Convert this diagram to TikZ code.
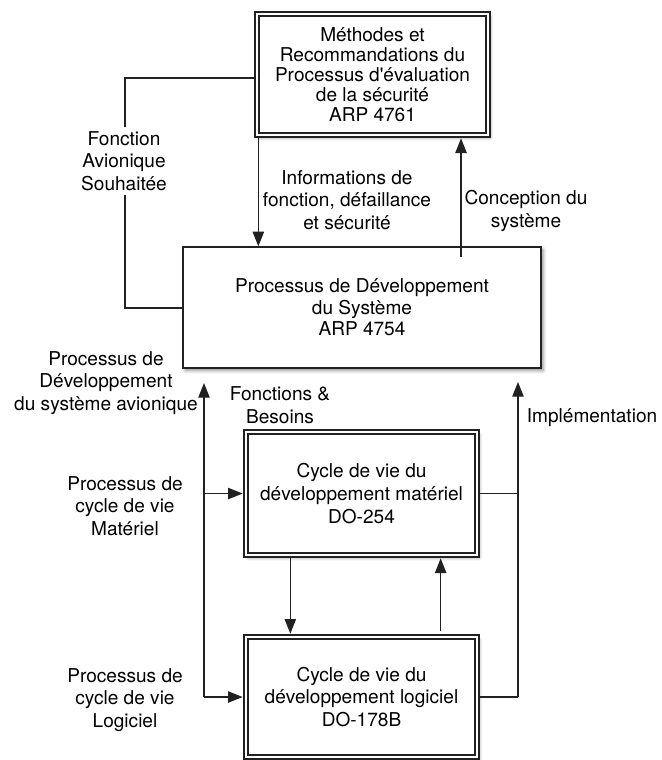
\documentclass[tikz,border=0pt]{standalone}
\usepackage{fontspec}
\setmainfont{TeX Gyre Heros}
\usepackage{tikz}
\usetikzlibrary{arrows.meta, calc, positioning, shadows, shadows.blur}
\definecolor{boxline}{rgb}{0.13, 0.13, 0.13}

\begin{document}
\begin{tikzpicture}[x=.75pt, y=-.75pt, line width=1pt, draw=boxline,
        font=\fontsize{14.3}{17}\selectfont,
        lbl/.style={align=center, inner sep=3pt},
        box/.style={draw=boxline, fill=white, align=center,
            blur shadow={shadow xshift=1.6pt, shadow yshift=-2pt, shadow blur radius=2.5pt, shadow opacity=45}},
        dbox/.style={box, double, double distance=2pt},
        arr/.style={-{Triangle[length=11pt, width=8.5pt]}},
        darr/.style={arr, shorten >=2pt}]
    \useasboundingbox (0,0) rectangle (661,760);

    \node[dbox, minimum width=173.25pt, minimum height=90.75pt, font=\fontsize{14.3}{15}\selectfont]
        (meth) at (372.5,74.5) {Méthodes et\\Recommandations du\\Processus d\textquotesingle évaluation\\de la sécurité\\ARP 4761};
    \node[box, minimum width=268.5pt, minimum height=90.75pt, font=\fontsize{14.3}{16}\selectfont]
        (sys) at (362,307.5) {Processus de Développement\\du Système\\ARP 4754};
    \node[dbox, minimum width=173.25pt, minimum height=92.25pt]
        (hw) at (361.5,493.5) {Cycle de vie du\\développement matériel\\DO-254};
    \node[dbox, minimum width=173.25pt, minimum height=90pt]
        (sw) at (361.5,697) {Cycle de vie du\\développement logiciel\\DO-178B};

    \node[lbl] (fonc) at (124,161) {Fonction\\Avionique\\Souhaitée};
    \node[lbl] (info) at (347,200) {Informations de\\fonction, défaillance\\et sécurité};
    \node[lbl] (conc) at (526,211) {Conception du\\système};
    \node[lbl] (avio) at (106,383) {Processus de\\Développement\\du système avionique};
    \node[lbl] (fb) at (280,405) {Fonctions \&\\Besoins};
    \node[lbl] (impl) at (592,418) {Implémentation};
    \node[lbl] (mat) at (125,506) {Processus de\\cycle de vie\\Matériel};
    \node[lbl] (logi) at (125,700) {Processus de\\cycle de vie\\Logiciel};

    \coordinate (ftop) at (125,78);
    \coordinate (fbot) at (125,308);
    \coordinate (cup) at (461,257);
    \coordinate (atop) at (204,383);
    \coordinate (btop) at (518,382);

    \draw (ftop -| meth.west) -- (ftop) -- (ftop |- fonc.north);
    \draw (fbot |- fonc.south) -- (fbot) -- (fbot -| sys.west);
    \draw[arr] ([xshift=1.5pt]meth.south west) -- ([xshift=1.5pt]meth.south west |- sys.north);
    \draw[darr] (cup) -- (cup |- meth.south);

    \draw[arr] (sw.west -| atop) -- (atop);
    \draw[darr] (hw.west -| atop) -- (hw.west);
    \draw[darr] (sw.west -| atop) -- (sw.west);

    \draw (hw.east) -- (hw.east -| btop);
    \draw (sw.east) -- (sw.east -| btop);
    \draw[arr] (sw.east -| btop) -- (btop);

    \draw[darr] ([xshift=33.75pt]hw.south west) -- ([xshift=33.75pt]hw.south west |- sw.north);
    \draw[darr] ([xshift=-27.75pt, yshift=3.75pt]sw.north east) -- ([xshift=-27.75pt]hw.south east);
\end{tikzpicture}
\end{document}
